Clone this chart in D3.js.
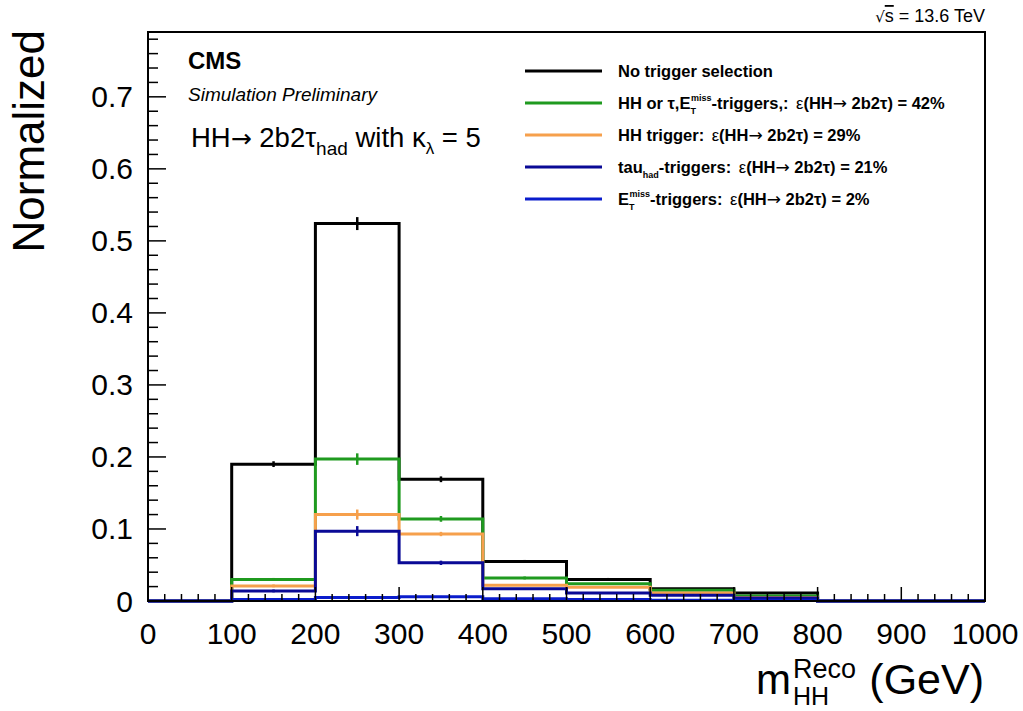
<!DOCTYPE html>
<html>
<head>
<meta charset="utf-8">
<script src="https://cdn.jsdelivr.net/npm/d3@7"></script>
<style>
  html, body { margin: 0; padding: 0; background: #fff; }
  svg { display: block; font-family: "Liberation Sans", Arial, sans-serif; }
</style>
</head>
<body>
<div id="chart"></div>
<script>
// bin edges in GeV
const binEdges = [0, 100, 200, 300, 400, 500, 600, 700, 800, 900, 1000];

// normalized yields per bin
const noTrigger   = [0, 0.190, 0.524, 0.169, 0.055, 0.030, 0.017, 0.011, 0, 0];
const hhOrTauMet  = [0, 0.030, 0.197, 0.114, 0.032, 0.024, 0.015, 0.007, 0, 0];
const hhTrigger   = [0, 0.021, 0.120, 0.093, 0.022, 0.019, 0.011, 0.005, 0, 0];
const tauTriggers = [0, 0.014, 0.097, 0.053, 0.017, 0.011, 0.008, 0.004, 0, 0];
const metTriggers = [0, 0.002, 0.005, 0.006, 0.003, 0.002, 0.001, 0.001, 0, 0];

// stat. errors
const noTriggerErr   = [0, 0.004, 0.009, 0.004, 0.002, 0.002, 0.001, 0.001, 0, 0];
const hhOrTauMetErr  = [0, 0.002, 0.008, 0.004, 0.002, 0.001, 0.001, 0.001, 0, 0];
const hhTriggerErr   = [0, 0.002, 0.007, 0.003, 0.001, 0.001, 0.001, 0.001, 0, 0];
const tauTriggersErr = [0, 0.002, 0.007, 0.003, 0.001, 0.001, 0.001, 0.001, 0, 0];
const metTriggersErr = [0, 0.001, 0.001, 0.001, 0.001, 0, 0, 0, 0, 0];

const xTicks = [0, 100, 200, 300, 400, 500, 600, 700, 800, 900, 1000];
const yTicks = [0, 0.1, 0.2, 0.3, 0.4, 0.5, 0.6, 0.7];

const series = [
  { key: 'none', vals: noTrigger, err: noTriggerErr, color: '#000000' },
  { key: 'or', vals: hhOrTauMet, err: hhOrTauMetErr, color: '#1f9a1f' },
  { key: 'hh', vals: hhTrigger, err: hhTriggerErr, color: '#f6a04c' },
  { key: 'tau', vals: tauTriggers, err: tauTriggersErr, color: '#0a0a96' },
  { key: 'met', vals: metTriggers, err: metTriggersErr, color: '#0a1ccc' }
];

const width = 1023, height = 711;
const plotL = 148, plotR = 985, plotT = 32, plotB = 601;

const svg = d3.select('#chart').append('svg')
  .attr('width', width).attr('height', height);

const x = d3.scaleLinear().domain([0, 1000]).range([plotL, plotR]);
const y = d3.scaleLinear().domain([0, 0.79]).range([plotB, plotT]);

// histograms as steps
const line = d3.line().x(d => x(d[0])).y(d => y(d[1])).curve(d3.curveStepAfter);
series.forEach(s => {
  const pts = s.vals.map((v, i) => [binEdges[i], v]);
  pts.push([binEdges[binEdges.length - 1], s.vals[s.vals.length - 1]]);
  svg.append('path')
    .attr('d', line(pts))
    .attr('fill', 'none')
    .attr('stroke', s.color)
    .attr('stroke-width', 3);
  // error bars
  s.vals.forEach((v, i) => {
    if (!s.err[i]) return;
    const cx = x((binEdges[i] + binEdges[i + 1]) / 2);
    svg.append('line')
      .attr('x1', cx).attr('x2', cx)
      .attr('y1', y(v - s.err[i])).attr('y2', y(v + s.err[i]))
      .attr('stroke', s.color).attr('stroke-width', 2.5);
  });
});

// frame
svg.append('rect')
  .attr('x', plotL).attr('y', plotT)
  .attr('width', plotR - plotL).attr('height', plotB - plotT)
  .attr('fill', 'none').attr('stroke', '#000').attr('stroke-width', 2);

// y axis ticks (inward)
const yAxis = svg.append('g');
d3.range(0, 0.781, 0.02).forEach(v => {
  const major = Math.abs(v * 10 - Math.round(v * 10)) < 1e-6;
  yAxis.append('line')
    .attr('x1', plotL).attr('x2', plotL + (major ? 18 : 10))
    .attr('y1', y(v)).attr('y2', y(v))
    .attr('stroke', '#000').attr('stroke-width', 1.5);
});
yAxis.selectAll('text.ytick')
  .data(yTicks)
  .join('text')
  .attr('class', 'ytick')
  .attr('x', 133)
  .attr('y', d => y(d) + 10.5)
  .attr('text-anchor', 'end')
  .attr('font-size', 30)
  .text(d => d === 0 ? '0' : d3.format('.1f')(d));

// x axis ticks (inward)
const xAxis = svg.append('g');
d3.range(0, 1001, 20).forEach(v => {
  const major = v % 100 === 0;
  xAxis.append('line')
    .attr('x1', x(v)).attr('x2', x(v))
    .attr('y1', plotB).attr('y2', plotB - (major ? 14 : 7))
    .attr('stroke', '#000').attr('stroke-width', 1.5);
});
xAxis.selectAll('text.xtick')
  .data(xTicks)
  .join('text')
  .attr('class', 'xtick')
  .attr('x', d => x(d))
  .attr('y', 644)
  .attr('text-anchor', 'middle')
  .attr('font-size', 30)
  .text(d => d);

// axis titles
svg.append('text')
  .attr('transform', 'translate(44,30) rotate(-90)')
  .attr('text-anchor', 'end')
  .attr('font-size', 44)
  .text('Normalized');

svg.append('text').attr('x', 756).attr('y', 694).attr('font-size', 42).text('m');
svg.append('text').attr('x', 793).attr('y', 678).attr('font-size', 27).text('Reco');
svg.append('text').attr('x', 793).attr('y', 705).attr('font-size', 25).text('HH');
svg.append('text').attr('x', 984).attr('y', 694).attr('text-anchor', 'end')
  .attr('font-size', 43).text('(GeV)');

const sq = svg.append('text')
  .attr('x', plotR).attr('y', 22)
  .attr('text-anchor', 'end')
  .attr('font-size', 18);
sq.append('tspan').attr('font-family', 'DejaVu Sans').attr('font-size', 15).text('√');
sq.append('tspan').style('text-decoration', 'overline').text('s');
sq.append('tspan').text(' = 13.6 TeV');

// labels
svg.append('text').attr('x', 188).attr('y', 69)
  .attr('font-size', 24).attr('font-weight', 'bold').text('CMS');
svg.append('text').attr('x', 188).attr('y', 101)
  .attr('font-size', 19).attr('font-style', 'italic').text('Simulation Preliminary');
const proc = svg.append('text').attr('x', 191).attr('y', 147).attr('font-size', 27.5);
proc.append('tspan').text('HH');
proc.append('tspan').attr('font-family', 'DejaVu Sans').attr('font-size', 25).text('→');
proc.append('tspan').text(' 2b2τ');
proc.append('tspan').attr('font-size', 19).attr('dy', 8).text('had');
proc.append('tspan').attr('dy', -8).text(' with κ');
proc.append('tspan').attr('font-size', 17).attr('dy', 7).text('λ');
proc.append('tspan').attr('dy', -7).text(' = 5');

// legend
const legendRows = [
  { color: '#000000', parts: [['No trigger selection']] },
  { color: '#1f9a1f', parts: [['HH or  τ,E'], ['T', 'sub'], ['miss', 'sup'], ['-triggers,: '], ['ε', 'eps'], ['(HH'], ['→', 'arr'], [' 2b2τ) = 42%']] },
  { color: '#f6a04c', parts: [['HH trigger: '], ['ε', 'eps'], ['(HH'], ['→', 'arr'], [' 2b2τ) = 29%']] },
  { color: '#0a0a96', parts: [['tau'], ['had', 'sub'], ['-triggers: '], ['ε', 'eps'], ['(HH'], ['→', 'arr'], [' 2b2τ) = 21%']] },
  { color: '#0a1ccc', parts: [['E'], ['T', 'sub'], ['miss', 'sup'], ['-triggers: '], ['ε', 'eps'], ['(HH'], ['→', 'arr'], [' 2b2τ) = 2%']] }
];
const lg = svg.append('g');
legendRows.forEach((r, i) => {
  const ly = 71 + i * 32;
  lg.append('line')
    .attr('x1', 525).attr('x2', 602).attr('y1', ly).attr('y2', ly)
    .attr('stroke', r.color).attr('stroke-width', 3);
  const t = lg.append('text')
    .attr('x', 618).attr('y', ly + 6)
    .attr('font-size', 16.5).attr('font-weight', 'bold');
  let shift = 0;
  let prevSub = false;
  r.parts.forEach(p => {
    const ts = t.append('tspan').text(p[0]);
    if (p[1] === 'sub') {
      ts.attr('font-size', 9).attr('dy', 5 - shift);
      shift = 5;
      prevSub = true;
    } else if (p[1] === 'sup') {
      ts.attr('font-size', 9).attr('dy', -8 - shift);
      if (prevSub) ts.attr('dx', -5);
      shift = -8;
      prevSub = false;
    } else {
      ts.attr('dy', -shift);
      if (p[1] === 'eps') ts.attr('font-weight', 'normal').attr('dx', 3);
      if (p[1] === 'arr') ts.attr('font-family', 'DejaVu Sans').attr('font-weight', 'normal').attr('font-size', 17);
      shift = 0;
      prevSub = false;
    }
  });
});
</script>
</body>
</html>
